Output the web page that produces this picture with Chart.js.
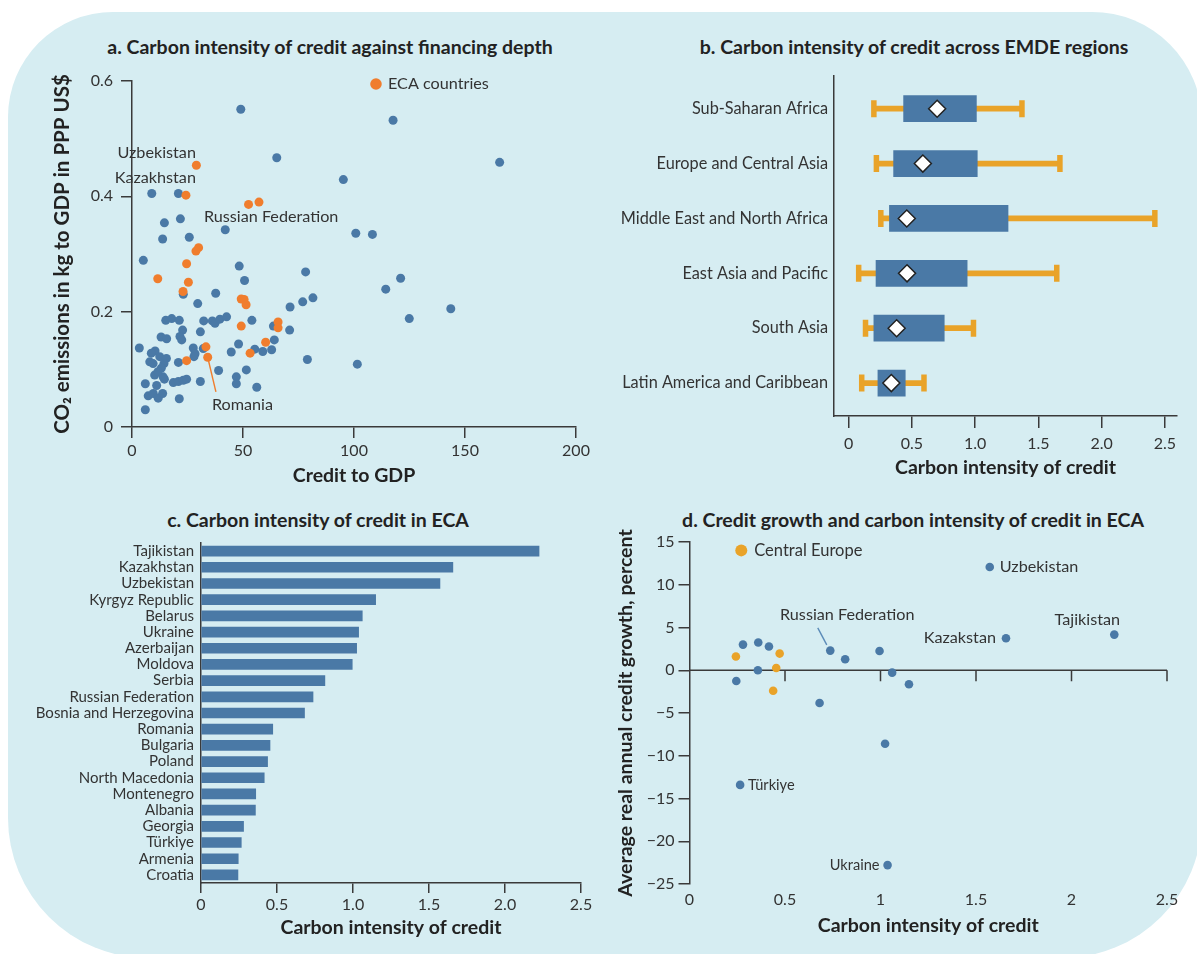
<!DOCTYPE html>
<html>
<head>
<meta charset="utf-8">
<script src="https://cdn.jsdelivr.net/npm/chart.js@4.4.1/dist/chart.umd.min.js"></script>
<style>
  html, body { margin: 0; padding: 0; background: #ffffff; }
  body { width: 1197px; height: 954px; position: relative; overflow: hidden; font-family: Lato, "Open Sans", sans-serif; }
  #panel { position: absolute; left: 8px; top: 12px; width: 1194px; height: 946px; background: #d6edf2;
           border-radius: 105px 110px 140px 140px; }
  canvas { position: absolute; }
  .ttl { position: absolute; font-weight: 700; font-size: 19.5px; color: #222; white-space: nowrap; transform: translate(-50%, -50%); }
</style>
</head>
<body>
<div id="panel"></div>
<div class="ttl" style="left:330px;top:46px">a. Carbon intensity of credit against financing depth</div>
<div class="ttl" style="left:914px;top:46px">b. Carbon intensity of credit across EMDE regions</div>
<div class="ttl" style="left:318px;top:519px">c. Carbon intensity of credit in ECA</div>
<div class="ttl" style="left:913px;top:519px">d. Credit growth and carbon intensity of credit in ECA</div>
<canvas id="ca" width="580" height="440" style="left:20px;top:60px;width:580px;height:440px"></canvas>
<canvas id="cb" width="597" height="430" style="left:600px;top:60px;width:597px;height:430px"></canvas>
<canvas id="cc" width="580" height="450" style="left:20px;top:500px;width:580px;height:450px"></canvas>
<canvas id="cd" width="597" height="450" style="left:600px;top:500px;width:597px;height:450px"></canvas>
<script>
// ---- Panel a: credit to GDP vs CO2 emissions per GDP ----
const ecaCredit = [29, 24.3, 52.5, 57.2, 30, 28.8, 24.6, 11.6, 25.4, 23, 49.2, 50.5, 51.4, 49.2, 65.8, 65.8, 60.2, 33.3, 34.1, 53.2, 24.6];
const ecaCO2    = [0.454, 0.402, 0.386, 0.390, 0.311, 0.305, 0.283, 0.257, 0.251, 0.235, 0.222, 0.221, 0.212, 0.175, 0.182, 0.172, 0.147, 0.139, 0.121, 0.128, 0.115];
const otherCredit = [49, 117.6, 65.2, 165.6, 95.2, 8.9, 20.9, 14.6, 21.8, 42, 100.8, 108.3, 13.8, 25.8, 5.1, 48.3, 78.2, 50.7, 121, 114.3,
  23.1, 37.7, 29.6, 71.2, 76.9, 81.5, 143.6, 124.9, 15.2, 17.9, 21.3, 32.3, 36.2, 37.4, 39.6, 42.6, 54, 22.8, 30.8, 63.7,
  71, 13.1, 15.6, 21.6, 22.4, 64.1, 48, 3.3, 10.4, 27.6, 28.4, 27.9, 32.1, 44.7, 55.3, 58.9, 62.9, 79, 101.5, 20.9,
  39, 47, 47, 51.5, 56.2, 30.8, 18.6, 20.9, 23.1, 24.6, 21.3, 6, 11.1, 7.3, 9.6, 11.8, 13.8, 6, 14.6, 8.7,
  8, 9.5, 12.5, 15.5, 14.4, 13.2, 10.2, 14, 11.7];
const otherCO2 = [0.551, 0.532, 0.467, 0.459, 0.429, 0.405, 0.405, 0.354, 0.361, 0.342, 0.336, 0.334, 0.326, 0.329, 0.289, 0.279, 0.269, 0.254, 0.258, 0.239,
  0.230, 0.232, 0.214, 0.208, 0.217, 0.224, 0.205, 0.188, 0.185, 0.188, 0.185, 0.184, 0.184, 0.180, 0.187, 0.191, 0.185, 0.168, 0.165, 0.175,
  0.168, 0.156, 0.153, 0.157, 0.151, 0.151, 0.144, 0.137, 0.132, 0.137, 0.127, 0.122, 0.136, 0.130, 0.135, 0.131, 0.134, 0.117, 0.109, 0.112,
  0.098, 0.087, 0.075, 0.099, 0.069, 0.079, 0.077, 0.079, 0.081, 0.083, 0.049, 0.075, 0.072, 0.054, 0.058, 0.050, 0.058, 0.030, 0.083, 0.128,
  0.113, 0.110, 0.122, 0.119, 0.110, 0.102, 0.090, 0.087, 0.096];

// ---- Panel b: distribution of carbon intensity of credit by region ----
const regions = ['Sub-Saharan Africa', 'Europe and Central Asia', 'Middle East and North Africa',
                 'East Asia and Pacific', 'South Asia', 'Latin America and Caribbean'];
const whiskerLow  = [0.20, 0.22, 0.255, 0.08, 0.134, 0.104];
const boxLow      = [0.435, 0.356, 0.323, 0.217, 0.20, 0.232];
const medians     = [0.70, 0.587, 0.46, 0.462, 0.38, 0.338];
const boxHigh     = [1.01, 1.017, 1.26, 0.937, 0.756, 0.448];
const whiskerHigh = [1.37, 1.67, 2.42, 1.645, 0.987, 0.596];

// ---- Panels c and d: ECA countries ----
const ecaCountries = ['Tajikistan', 'Kazakhstan', 'Uzbekistan', 'Kyrgyz Republic', 'Belarus', 'Ukraine', 'Azerbaijan',
  'Moldova', 'Serbia', 'Russian Federation', 'Bosnia and Herzegovina', 'Romania', 'Bulgaria', 'Poland',
  'North Macedonia', 'Montenegro', 'Albania', 'Georgia', 'Türkiye', 'Armenia', 'Croatia'];
const carbonIntensity = [2.224, 1.657, 1.572, 1.149, 1.061, 1.037, 1.024, 0.995, 0.815, 0.737, 0.681,
  0.472, 0.454, 0.438, 0.416, 0.36, 0.358, 0.28, 0.265, 0.245, 0.243];
const creditGrowth = [4.17, 3.75, 12.07, -1.64, -0.28, -22.79, -8.6, 2.26, 1.29, 2.3, -3.83,
  1.95, 0.27, -2.39, 2.77, 3.24, 0.0, 3.0, -13.41, -1.25, 1.6];
const centralEurope = ['Romania', 'Bulgaria', 'Poland', 'Croatia'];

// ---- styling ----
const BLUE = '#4a79a6', ORANGE = '#f07d2d', GOLD = '#e9a329', INK = '#333333', AXIS = '#3a3a3a';
const FONT = 'Lato, "Open Sans", sans-serif';
Chart.defaults.font.family = FONT;
Chart.defaults.font.size = 16;
Chart.defaults.color = INK;
Chart.defaults.animation = false;
Chart.defaults.plugins.legend.display = false;
Chart.defaults.plugins.tooltip.enabled = false;

const fixedSize = size => s => { if (s.isHorizontal()) s.height = size; else s.width = size; };
const border = { color: AXIS, width: 1.5 };
const axisTitle = (text, padding, size = 19.5) => ({ display: true, text, color: '#222', font: { size, weight: 'bold' }, padding });
const oneDecimal = v => v === 0 ? '0' : v.toFixed(1);

// text, dots and leader lines placed through the chart scales
function notesPlugin(id, items) {
  return {
    id,
    afterDatasetsDraw(chart) {
      const { ctx, scales: { x, y } } = chart;
      ctx.save();
      for (const it of items) {
        const px = x.getPixelForValue(it.x) + (it.dx || 0);
        const py = y.getPixelForValue(it.y) + (it.dy || 0);
        if (it.kind === 'text') {
          ctx.font = `${it.size || 16.2}px ${FONT}`;
          ctx.fillStyle = INK;
          ctx.textAlign = it.align || 'left';
          ctx.textBaseline = 'middle';
          ctx.fillText(it.text, px, py);
        } else if (it.kind === 'dot') {
          ctx.beginPath();
          ctx.arc(px, py, it.r, 0, Math.PI * 2);
          ctx.fillStyle = it.color;
          ctx.fill();
        } else if (it.kind === 'line') {
          const qx = it.x2 !== undefined ? x.getPixelForValue(it.x2) : px + it.ex;
          const qy = it.y2 !== undefined ? y.getPixelForValue(it.y2) : py + it.ey;
          ctx.beginPath();
          ctx.moveTo(px, py);
          ctx.lineTo(qx, qy);
          ctx.strokeStyle = it.color;
          ctx.lineWidth = 1.4;
          ctx.stroke();
        }
      }
      ctx.restore();
    }
  };
}

// horizontal axis through zero with downward tick marks
const zeroAxis = {
  id: 'zeroAxis',
  beforeDatasetsDraw(chart) {
    const { ctx, chartArea, scales: { x, y } } = chart;
    const py = y.getPixelForValue(0);
    ctx.save();
    ctx.strokeStyle = AXIS;
    ctx.lineWidth = 1.5;
    ctx.beginPath();
    ctx.moveTo(chartArea.left, py);
    ctx.lineTo(chartArea.right, py);
    for (const t of x.ticks) {
      if (t.value === 0) continue;
      const px = x.getPixelForValue(t.value);
      ctx.moveTo(px, py);
      ctx.lineTo(px, py + 11);
    }
    ctx.stroke();
    ctx.restore();
  }
};

// ---------- a ----------
const romaniaIdx = 18;
new Chart(document.getElementById('ca'), {
  type: 'scatter',
  data: {
    datasets: [
      { data: ecaCredit.map((x, i) => ({ x, y: ecaCO2[i] })), backgroundColor: ORANGE, pointRadius: 4.5, borderWidth: 0 },
      { data: otherCredit.map((x, i) => ({ x, y: otherCO2[i] })), backgroundColor: BLUE, pointRadius: 4.5, borderWidth: 0 }
    ]
  },
  options: {
    responsive: false,
    layout: { padding: { top: 21, right: 24, left: 0, bottom: 0 } },
    scales: {
      x: {
        min: 0, max: 200, afterFit: fixedSize(73),
        ticks: { stepSize: 50, padding: 3 },
        grid: { drawOnChartArea: false, tickLength: 11, color: AXIS, lineWidth: 1.5 },
        border,
        title: axisTitle('Credit to GDP', { top: 0, bottom: 12.3 })
      },
      y: {
        min: 0, max: 0.6, afterFit: fixedSize(112),
        ticks: { stepSize: 0.2, padding: 8, callback: oneDecimal },
        grid: { drawOnChartArea: false, tickLength: 11, color: AXIS, lineWidth: 1.5 },
        border,
        title: axisTitle('CO\u2082 emissions in kg to GDP in PPP US$', { top: 29.7, bottom: 0 }, 20.5)
      }
    }
  },
  plugins: [notesPlugin('notesA', [
    { kind: 'dot', x: 109.9, y: 0.5948, r: 5.8, color: ORANGE },
    { kind: 'text', x: 109.9, y: 0.5948, dx: 12, text: 'ECA countries' },
    { kind: 'text', x: 28.8, y: 0.475, align: 'right', text: 'Uzbekistan' },
    { kind: 'text', x: 28.8, y: 0.432, align: 'right', text: 'Kazakhstan' },
    { kind: 'text', x: 32.4, y: 0.364, text: 'Russian Federation' },
    { kind: 'line', x: ecaCredit[romaniaIdx], y: ecaCO2[romaniaIdx], x2: 37.8, y2: 0.061, color: ORANGE },
    { kind: 'text', x: 36.0, y: 0.038, text: 'Romania' }
  ])]
});

// ---------- b ----------
const rows = regions.map((_, i) => i);
new Chart(document.getElementById('cb'), {
  type: 'bar',
  data: {
    datasets: [
      { type: 'scatter', order: 0, data: rows.map(i => ({ x: medians[i], y: i })),
        pointStyle: 'rectRot', pointRadius: 8.5, pointBackgroundColor: '#ffffff',
        pointBorderColor: '#222222', pointBorderWidth: 1.5 },
      { type: 'bar', order: 1, indexAxis: 'y', grouped: false, barThickness: 26, backgroundColor: BLUE,
        data: rows.map(i => ({ y: i, x: [boxLow[i], boxHigh[i]] })) },
      { type: 'scatter', order: 2, data: rows.flatMap(i => [{ x: whiskerLow[i], y: i }, { x: whiskerHigh[i], y: i }]),
        pointStyle: 'line', pointRotation: 90, pointRadius: 8.5, pointBorderColor: GOLD, pointBorderWidth: 5.5 },
      { type: 'bar', order: 3, indexAxis: 'y', grouped: false, barThickness: 5, backgroundColor: GOLD,
        data: rows.map(i => ({ y: i, x: [whiskerLow[i], whiskerHigh[i]] })) }
    ]
  },
  options: {
    responsive: false,
    layout: { padding: { top: 12, right: 20, left: 0, bottom: 0 } },
    scales: {
      x: {
        type: 'linear', min: -0.115, max: 2.595, offset: false, afterFit: fixedSize(74),
        ticks: { stepSize: 0.5, includeBounds: false, padding: 6, callback: oneDecimal },
        grid: { drawOnChartArea: false, offset: false, tickLength: 12, color: AXIS, lineWidth: 1.5 },
        border,
        title: axisTitle('Carbon intensity of credit', { top: 0, bottom: 10.3 })
      },
      y: {
        type: 'linear', reverse: true, min: -0.6, max: 5.6, offset: false, beginAtZero: false, afterFit: fixedSize(234),
        ticks: { stepSize: 1, includeBounds: false, autoSkip: false, padding: 6, font: { size: 16.3 },
                 callback: v => regions[v] ?? '' },
        grid: { display: false, drawTicks: false, offset: false },
        border
      }
    }
  }
});

// ---------- c ----------
new Chart(document.getElementById('cc'), {
  type: 'bar',
  data: { labels: ecaCountries, datasets: [{ data: carbonIntensity, backgroundColor: BLUE, barThickness: 10 }] },
  options: {
    indexAxis: 'y',
    responsive: false,
    layout: { padding: { top: 43, right: 19, left: 0, bottom: 0 } },
    scales: {
      x: {
        min: 0, max: 2.5, afterFit: fixedSize(67),
        ticks: { stepSize: 0.5, padding: 2, callback: oneDecimal },
        grid: { drawOnChartArea: false, tickLength: 10, color: AXIS, lineWidth: 1.5 },
        border,
        title: axisTitle('Carbon intensity of credit', { top: 0, bottom: 10.3 })
      },
      y: {
        afterFit: fixedSize(181),
        ticks: { padding: 7, autoSkip: false, font: { size: 15 } },
        grid: { display: false, drawTicks: false },
        border
      }
    }
  }
});

// ---------- d ----------
const isCE = c => centralEurope.includes(c);
const pointOf = c => { const i = ecaCountries.indexOf(c); return { x: carbonIntensity[i], y: creditGrowth[i] }; };
const labelAt = (country, text, opts) => Object.assign({ kind: 'text', text }, pointOf(country), opts);
const rus = pointOf('Russian Federation');
new Chart(document.getElementById('cd'), {
  type: 'scatter',
  data: {
    datasets: [
      { data: ecaCountries.filter(isCE).map(pointOf), backgroundColor: GOLD, pointRadius: 4.3, borderWidth: 0 },
      { data: ecaCountries.filter(c => !isCE(c)).map(pointOf), backgroundColor: BLUE, pointRadius: 4.3, borderWidth: 0 }
    ]
  },
  options: {
    responsive: false,
    layout: { padding: { top: 42, right: 30, left: 0, bottom: 0 } },
    scales: {
      x: {
        min: 0, max: 2.5, afterFit: fixedSize(66),
        ticks: { stepSize: 0.5, padding: 6, callback: v => String(v) },
        grid: { display: false, drawTicks: false },
        border: { display: false },
        title: axisTitle('Carbon intensity of credit', { top: 0, bottom: 12.8 })
      },
      y: {
        min: -25, max: 15, afterFit: fixedSize(89.5),
        ticks: { stepSize: 5, padding: 4, callback: v => v < 0 ? '\u2212' + (-v) : String(v) },
        grid: { drawOnChartArea: false, tickLength: 11, color: AXIS, lineWidth: 1.5 },
        border,
        title: axisTitle('Average real annual credit growth, percent', { top: 14.3, bottom: 0 })
      }
    }
  },
  plugins: [zeroAxis, notesPlugin('notesD', [
    { kind: 'dot', x: 0.271, y: 14.02, r: 6, color: GOLD },
    { kind: 'text', x: 0.271, y: 14.02, dx: 13, text: 'Central Europe', size: 16.5 },
    labelAt('Uzbekistan', 'Uzbekistan', { dx: 10 }),
    labelAt('Kazakhstan', 'Kazakstan', { dx: -10, align: 'right' }),
    labelAt('Tajikistan', 'Tajikistan', { dx: -27, dy: -15, align: 'center' }),
    labelAt('Russian Federation', 'Russian Federation', { dx: 17, dy: -36, align: 'center' }),
    { kind: 'line', x: rus.x, y: rus.y, dx: -12.5, dy: -22.7, ex: 9, ey: 17, color: '#5b8bb8' },
    labelAt('Türkiye', 'Türkiye', { dx: 8, size: 14.6 }),
    labelAt('Ukraine', 'Ukraine', { dx: -8, align: 'right', size: 14.6 })
  ])]
});
</script>
</body>
</html>
